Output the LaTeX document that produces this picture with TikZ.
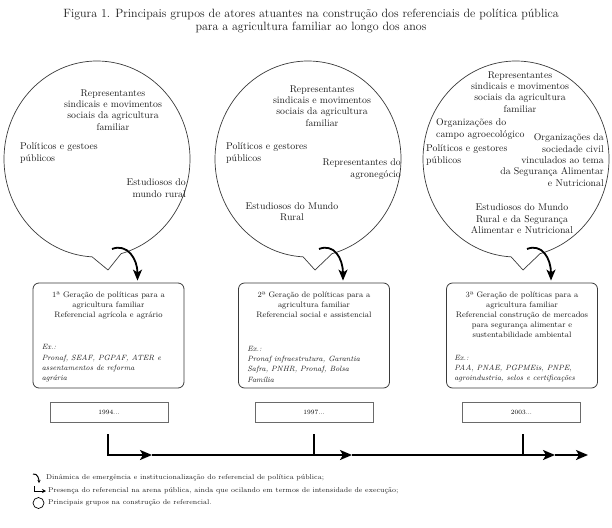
\documentclass[tikz,border=0pt]{standalone}
\usepackage{tikz}
\usetikzlibrary{arrows.meta,positioning}
\definecolor{ink}{HTML}{1A1A1A}
\definecolor{rim}{HTML}{3A3A3A}
\definecolor{edge}{HTML}{6A6A6A}
\tikzset{
  bubble/.style={draw=rim, line width=0.7pt, line join=round},
  flow/.style={draw=black, line width=1.8pt, -{Stealth[length=11pt,width=9pt,inset=3pt]}},
  genbox/.style={draw=rim, line width=0.8pt, rounded corners=6pt, minimum width=151pt, minimum height=105pt, inner sep=0pt},
  yearbox/.style={draw=edge, line width=0.6pt, minimum width=118pt, minimum height=20pt, inner sep=0pt, font=\fontsize{6.5}{7}\selectfont},
  actor/.style={text=ink, inner sep=0pt, font=\fontsize{9.8}{11.4}\selectfont},
  head/.style={text=ink, inner sep=0pt, align=center, font=\fontsize{8}{10}\selectfont},
  ex/.style={text=ink, inner sep=0pt, align=left, font=\fontsize{7.6}{10.3}\selectfont\itshape},
  axis/.style={draw=black, line width=1.8pt},
  axisarr/.style={axis, -{Stealth[length=12pt,width=10pt,inset=3pt]}},
  key/.style={text=ink, inner sep=0pt, anchor=west, font=\fontsize{7}{8}\selectfont},
}

\begin{document}
\begin{tikzpicture}[x=1pt, y=-1pt]
  \useasboundingbox (0,0) rectangle (612,527);

  \node[text=ink, align=center, font=\fontsize{12}{13.5}\selectfont] (title) at (311,21)
    {Figura 1. Principais grupos de atores atuantes na construção dos referenciais de política pública\\
     para a agricultura familiar ao longo dos anos};

  % speech bubbles with the tail pointing to the box below
  \foreach \cx/\tx in {97/108, 308/315, 516/523}
    \draw[bubble] (\cx,159) ++(93:93 and 98)
      arc[start angle=93, end angle=435, x radius=93, y radius=98] -- (\tx,270) -- cycle;

  % actors, first bubble
  \node[actor, align=center] (rep1) at (113,110) {Representantes\\ sindicais e movimentos\\ sociais da agricultura\\ familiar};
  \node[actor, align=left, anchor=west] (pol1) at (20,153) {Políticos e gestoes\\ públicos};
  \node[actor, align=right, anchor=east] (est1) at (186,188) {Estudiosos do\\ mundo rural};

  % actors, second bubble
  \node[actor, align=center] (rep2) at (322,106) {Representantes\\ sindicais e movimentos\\ sociais da agricultura\\ familiar};
  \node[actor, align=left, anchor=west] (pol2) at (226,153) {Políticos e gestores\\ públicos};
  \node[actor, align=right, anchor=east] (agr2) at (401,169) {Representantes do\\ agronegócio};
  \node[actor, align=center] (est2) at (292,212) {Estudiosos do Mundo\\ Rural};

  % actors, third bubble
  \node[actor, align=center] (rep3) at (520,92) {Representantes\\ sindicais e movimentos\\ sociais da agricultura\\ familiar};
  \node[actor, align=left, anchor=west] (org3) at (436,129) {Organizações do\\ campo agroecológico};
  \node[actor, align=right, anchor=east] (soc3) at (604,160) {Organizações da\\ sociedade civil\\ vinculados ao tema\\ da Segurança Alimentar\\ e Nutricional};
  \node[actor, align=left, anchor=west] (pol3) at (426,155) {Políticos e gestores\\ públicos};
  \node[actor, align=center] (est3) at (522,219) {Estudiosos do Mundo\\ Rural e da Segurança\\ Alimentar e Nutricional};

  % policy generations
  \node[genbox] (g1) at (108.5,335.5) {};
  \node[genbox] (g2) at (314,335.5) {};
  \node[genbox] (g3) at (522,335.5) {};

  \node[head, anchor=north] (h1) at ([yshift=-9pt]g1.north)
    {1ª Geração de políticas para a\\ agricultura familiar\\ Referencial agrícola e agrário};
  \node[head, anchor=north] (h2) at ([yshift=-9pt]g2.north)
    {2ª Geração de políticas para a\\ agricultura familiar\\ Referencial social e assistencial};
  \node[head, anchor=north] (h3) at ([yshift=-9pt]g3.north)
    {3ª Geração de políticas para a\\ agricultura familiar\\ Referencial construção de mercados\\ para segurança alimentar e\\ sustentabilidade ambiental};

  \node[ex, anchor=south west] (e1) at ([xshift=9pt,yshift=6pt]g1.south west)
    {Ex.:\\ Pronaf, SEAF, PGPAF, ATER e\\ assentamentos de reforma\\ agrária};
  \node[ex, anchor=south west] (e2) at ([xshift=9pt,yshift=6pt]g2.south west)
    {Ex.:\\ Pronaf infraestrutura, Garantia\\ Safra, PNHR, Pronaf, Bolsa\\ Família};
  \node[ex, anchor=south west] (e3) at ([xshift=8pt,yshift=6pt]g3.south west)
    {Ex.:\\ PAA, PNAE, PGPMEis, PNPE,\\ agroindustria, selos e certificações};

  % emergence arrows, bubble to box
  \foreach \tx/\i in {108/1, 315/2, 523/3}
    \draw[flow] (\tx+4,249) .. controls +(15,-6) and +(0,-22) .. ([xshift=29pt,yshift=2pt]g\i.north);

  % time line
  \node[yearbox] (y1) at (109,412) {1994...};
  \node[yearbox] (y2) at (314,412) {1997...};
  \node[yearbox] (y3) at (521.5,412) {2003...};

  \draw[axisarr] ([xshift=-1pt,yshift=-12pt]y1.south) |- (152,455) coordinate (k1);
  \draw[axisarr] (k1) -- (352,455) coordinate (k2);
  \draw[axisarr] (k2) -- (555,455) coordinate (k3);
  \draw[axisarr] (k3) -- (588,455);
  \draw[axis] ([yshift=-12pt]y2.south) -- (y2.south |- k1);
  \draw[axis] ([xshift=1.5pt,yshift=-12pt]y3.south) -- ([xshift=1.5pt]y3.south |- k1);

  % legend
  \draw[line width=1pt, -{Stealth[length=3pt,width=3pt]}] (33,474) .. controls +(5,-1) and +(0,-3) .. (39,483);
  \node[key] (l1) at (46,478) {Dinâmica de emergência e institucionalização do referencial de política pública;};
  \draw[line width=0.6pt, -{Stealth[length=4pt,width=4pt]}] (34,486) |- (46,491);
  \node[key] (l2) at (48,491) {Presença do referencial na arena pública, ainda que ocilando em termos de intensidade de execução;};
  \draw[line width=0.7pt] (38.5,503) circle (5.5);
  \node[key] (l3) at (48,503) {Principais grupos na construção de referencial.};
\end{tikzpicture}
\end{document}
